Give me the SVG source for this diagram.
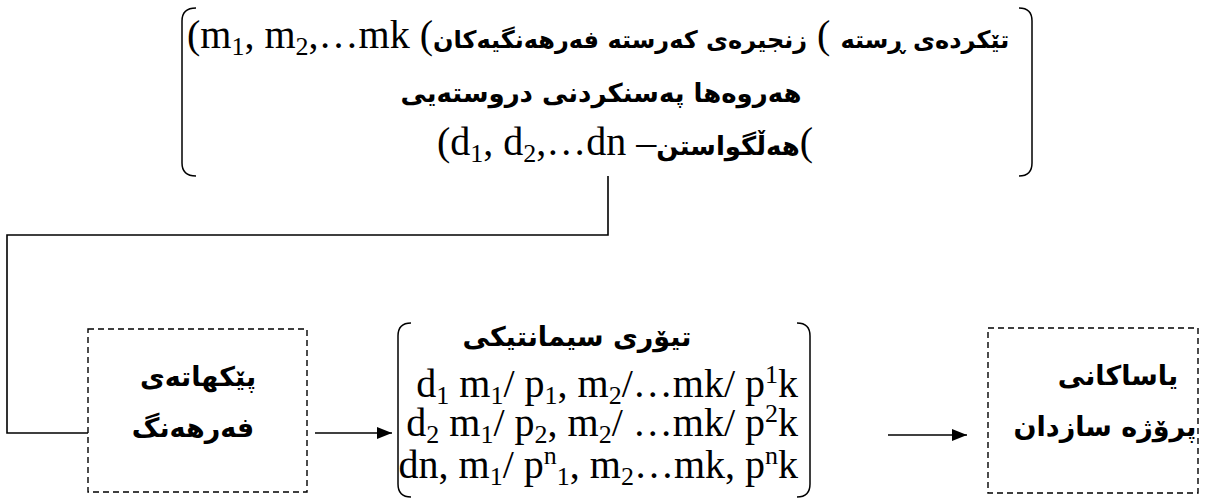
<svg xmlns="http://www.w3.org/2000/svg" width="1207" height="500" viewBox="0 0 1207 500">
<style>
.ar{font-family:"DejaVu Sans","Noto Sans",sans-serif;font-weight:bold;font-size:27px;fill:#000}
.a1{font-size:24px}
.a2{font-size:26px}
.la{font-family:"Liberation Serif","Times New Roman",serif;font-size:40px;font-weight:normal;fill:#000}
.sub{font-size:26px}
.br{fill:none;stroke:#000;stroke-width:1.5}
.dash{fill:none;stroke:#000;stroke-width:1.4;stroke-dasharray:6 4}
.con{fill:none;stroke:#000;stroke-width:1.6}
</style>
<defs>
<marker id="ah" viewBox="0 0 15 12" refX="15" refY="6" markerWidth="15" markerHeight="12" markerUnits="userSpaceOnUse" orient="auto">
<path d="M0,0 L15,6 L0,12 z" fill="#000"/>
</marker>
</defs>
<g id="connectors">
<polyline class="con" points="608,176 608,235 7,235 7,433 88,433"/>
<line class="con" x1="315" y1="433" x2="392" y2="433" marker-end="url(#ah)"/>
<line class="con" x1="888" y1="435" x2="967" y2="435" marker-end="url(#ah)"/>
</g>
<g id="node-top">
<path class="br" d="M196,8 Q182,8 182,21 L182,163 Q182,176 196,176"/>
<path class="br" d="M1019,8 Q1032,8 1032,21 L1032,163 Q1032,176 1019,176"/>
<text x="187" y="48"><tspan class="la">(m</tspan><tspan class="la sub" dy="7">1</tspan><tspan class="la" dy="-7">, m</tspan><tspan class="la sub" dy="7">2</tspan><tspan class="la" dy="-7">,…mk (</tspan><tspan class="ar a1">زنجیرەی کەرستە فەرهەنگیەکان</tspan><tspan class="la"> (&#x200E; </tspan><tspan class="ar a1">تێکردەی ڕستە</tspan></text>
<text class="ar a2" x="601" y="102" text-anchor="middle">هەروەها پەسنکردنی دروستەیی</text>
<text x="437" y="155"><tspan class="la">(d</tspan><tspan class="la sub" dy="7">1</tspan><tspan class="la" dy="-7">, d</tspan><tspan class="la sub" dy="7">2</tspan><tspan class="la" dy="-7">,…dn –</tspan><tspan class="ar a2">هەڵگواستن</tspan><tspan class="la">(</tspan></text>
</g>
<g id="node-components">
<rect class="dash" x="88" y="329" width="219" height="163"/>
<text class="ar" x="198" y="386" text-anchor="middle">پێکهاتەی</text>
<text class="ar" x="193" y="437" text-anchor="middle">فەرهەنگ</text>
</g>
<g id="node-semantic">
<path class="br" d="M411,323 Q398,323 398,336 L398,484 Q398,497 411,497"/>
<path class="br" d="M797,323 Q810,323 810,336 L810,484 Q810,497 797,497"/>
<text class="ar" x="577" y="346" text-anchor="middle">تیۆری سیمانتیکی</text>
<text class="la" x="798" y="397" text-anchor="end">d<tspan class="sub" dy="7">1</tspan><tspan dy="-7"> m</tspan><tspan class="sub" dy="7">1</tspan><tspan dy="-7">/ p</tspan><tspan class="sub" dy="7">1</tspan><tspan dy="-7">, m</tspan><tspan class="sub" dy="7">2</tspan><tspan dy="-7">/…mk/ p</tspan><tspan class="sub" dy="-14">1</tspan><tspan dy="14">k</tspan></text>
<text class="la" x="798" y="436" text-anchor="end">d<tspan class="sub" dy="7">2</tspan><tspan dy="-7"> m</tspan><tspan class="sub" dy="7">1</tspan><tspan dy="-7">/ p</tspan><tspan class="sub" dy="7">2</tspan><tspan dy="-7">, m</tspan><tspan class="sub" dy="7">2</tspan><tspan dy="-7">/ …mk/ p</tspan><tspan class="sub" dy="-14">2</tspan><tspan dy="14">k</tspan></text>
<text class="la" x="798" y="478" text-anchor="end">dn, m<tspan class="sub" dy="7">1</tspan><tspan dy="-7">/ p</tspan><tspan class="sub" dy="-14">n</tspan><tspan class="sub" dy="21">1</tspan><tspan dy="-7">, m</tspan><tspan class="sub" dy="7">2</tspan><tspan dy="-7">…mk, p</tspan><tspan class="sub" dy="-14">n</tspan><tspan dy="14">k</tspan></text>
</g>
<g id="node-rules">
<rect class="dash" x="988" y="328" width="210" height="165"/>
<text class="ar" x="1118" y="385" text-anchor="middle">یاساکانی</text>
<text class="ar" x="1105" y="436" text-anchor="middle">پرۆژە سازدان</text>
</g>
</svg>
